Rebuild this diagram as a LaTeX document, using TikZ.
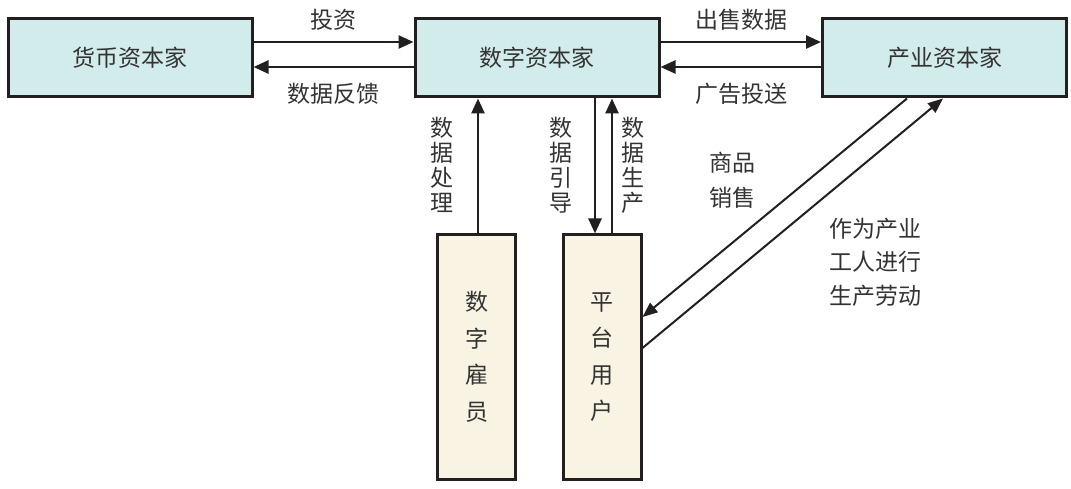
\documentclass[tikz,border=0pt]{standalone}
\usepackage{fontspec}
\setmainfont{Noto Sans CJK SC}
\usetikzlibrary{arrows.meta}
\definecolor{boxblue}{HTML}{D2ECEC}
\definecolor{boxcream}{HTML}{F8F3E2}
\definecolor{ink}{HTML}{231F20}
\definecolor{txt}{HTML}{333333}
\tikzset{
  topbox/.style={draw=ink, line width=3pt, fill=boxblue, minimum width=244pt, minimum height=78pt, inner sep=0pt, text=txt, font=\fontsize{23}{28}\selectfont},
  botbox/.style={draw=ink, line width=3pt, fill=boxcream, minimum width=78pt, minimum height=244pt, inner sep=0pt, text=txt, align=center, font=\fontsize{23}{36.5}\selectfont},
  arr/.style={draw=ink, line width=2.6pt, -{Triangle[length=15pt,width=13pt]}},
  darr/.style={draw=ink, line width=2pt, -{Triangle[length=15pt,width=12pt]}},
  lbl/.style={text=txt, inner sep=0pt, align=center, font=\fontsize{23}{25}\selectfont},
  lbl2/.style={text=txt, inner sep=0pt, align=left, font=\fontsize{23}{33.5}\selectfont},
  lbl3/.style={text=txt, inner sep=0pt, align=center, font=\fontsize{23}{35}\selectfont}
}
\begin{document}
\begin{tikzpicture}[x=1pt,y=-1pt]
\useasboundingbox (0,0) rectangle (1071,489);
\node[topbox] (b1) at (130,58) {货币资本家};
\node[topbox] (b2) at (537,58) {数字资本家};
\node[topbox] (b3) at (944.5,58) {产业资本家};
\node[botbox] (b4) at (476.5,357) {数\\字\\雇\\员};
\node[botbox] (b5) at (602,357) {平\\台\\用\\户};
% horizontal arrows
\draw[arr] (b1.east |- 0,42) -- (b2.west |- 0,42);
\draw[arr] (b2.west |- 0,67) -- (b1.east |- 0,67);
\draw[arr] (b2.east |- 0,42) -- (b3.west |- 0,42);
\draw[arr] (b3.west |- 0,67) -- (b2.east |- 0,67);
% vertical arrows
\draw[arr] (b4.north -| 478,0) -- (b2.south -| 478,0);
\draw[arr] (b2.south -| 595,0) -- (b5.north -| 595,0);
\draw[arr] (b5.north -| 612,0) -- (b2.south -| 612,0);
% diagonal arrows
\draw[darr] (b3.south -| 907,0) -- (b5.east |- 0,317);
\draw[darr] (b5.east |- 0,348) -- (b3.south -| 943,0);
% labels
\node[lbl] (l1) at (333,20) {投资};
\node[lbl] (l2) at (333,94) {数据反馈};
\node[lbl] (l3) at (741,20) {出售数据};
\node[lbl] (l4) at (741,94) {广告投送};
\node[lbl] (l5) at (442,165) {数\\据\\处\\理};
\node[lbl] (l6) at (561,165) {数\\据\\引\\导};
\node[lbl] (l7) at (632.5,165) {数\\据\\生\\产};
\node[lbl3] (l8) at (732,180) {商品\\销售};
\node[lbl2] (l9) at (875,262) {作为产业\\工人进行\\生产劳动};
\end{tikzpicture}
\end{document}
